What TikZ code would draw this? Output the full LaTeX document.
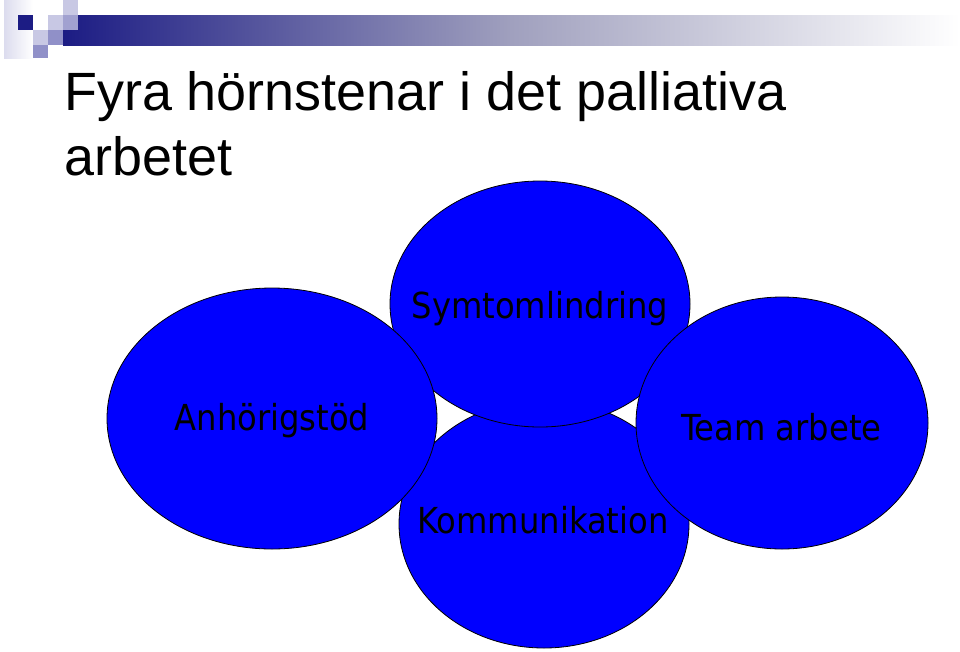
\documentclass[tikz,border=0pt]{standalone}
\usepackage{fontspec}
\setmainfont{Liberation Sans}
\newfontfamily\bubblefont{DejaVu Sans Condensed}
\usetikzlibrary{shapes.geometric}
\definecolor{navy}{HTML}{1C1C84}
\definecolor{barmid}{HTML}{A0A0BE}
\definecolor{sqlight}{HTML}{C8C8E4}
\definecolor{sqmid}{HTML}{9090C8}
\definecolor{pale}{HTML}{DCDCEE}
\definecolor{bubble}{HTML}{0000FF}
\tikzset{
  bubblebox/.style={ellipse, draw=black, line width=0.8pt, fill=bubble, inner sep=0pt},
  bubbletext/.style={anchor=base, inner sep=0pt, font=\bubblefont\fontsize{35.8}{42}\selectfont, text=black},
  titletext/.style={anchor=base west, inner sep=0pt, font=\fontsize{53.9}{65}\selectfont, text=black}
}
\begin{document}
\begin{tikzpicture}[x=1pt,y=-1pt]
\useasboundingbox (0,0) rectangle (960,651);
% decoration
\shade[left color=pale, right color=white] (4,0) rectangle (33,58);
\shade[left color=navy, right color=white, middle color=barmid] (63,15) rectangle (960,45);
\fill[navy] (18,15) rectangle (33,30);
\fill[sqlight] (48,15) rectangle (63,30);
\fill[sqlight] (63,0) rectangle (78,15);
\fill[sqmid!85!white] (63,15) rectangle (78,30);
\fill[sqlight] (33,30) rectangle (48,45);
\fill[sqmid] (48,30) rectangle (63,45);
\fill[sqmid] (33,45) rectangle (48,58);
% title
\node[titletext] (t1) at (64,110) {Fyra hörnstenar i det palliativa};
\node[titletext] (t2) at (64,175) {arbetet};
% bubbles
\node[bubblebox, minimum width=290pt, minimum height=248pt] (komm) at (544,524) {};
\node[bubblebox, minimum width=300pt, minimum height=246pt] (symt) at (540,304) {};
\node[bubblebox, minimum width=330pt, minimum height=261pt] (anh) at (272,418.5) {};
\node[bubblebox, minimum width=292pt, minimum height=252pt] (team) at (782,423) {};
% labels
\node[bubbletext] (symtl) at (540,318) {Symtomlindring};
\node[bubbletext] (anhl) at (272,430) {Anhörigstöd};
\node[bubbletext] (teaml) at (781.5,440) {Team arbete};
\node[bubbletext] (komml) at (543,533) {Kommunikation};
\end{tikzpicture}
\end{document}
